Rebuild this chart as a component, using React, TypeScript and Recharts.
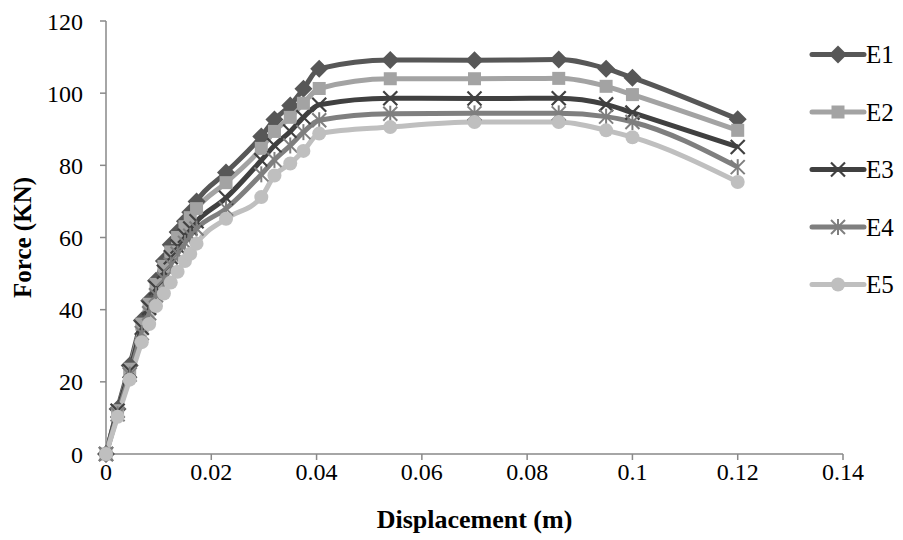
import React from "react"
import { LineChart, Line, XAxis, YAxis, Label } from "recharts"

// displacement (m), shared by all specimens
const displacement = [
  0, 0.0022, 0.0045, 0.0068, 0.0082, 0.0095, 0.011, 0.0123, 0.0136, 0.015, 0.016, 0.0172,
  0.0228, 0.0295, 0.032, 0.035, 0.0375, 0.0405, 0.054, 0.07, 0.086, 0.095, 0.1, 0.12
]

// force (KN)
const e1 = [0, 12.5, 24.5, 37, 42.5, 48, 53.5, 58, 61.5, 64.5, 67, 70, 78, 88, 92.7, 96.6, 101.2, 106.8, 109.2, 109.1, 109.3, 106.8, 104.3, 92.8]
const e2 = [0, 12, 23.5, 36, 41.5, 47, 52, 56, 60, 63, 65.5, 68, 75.2, 84.7, 89.4, 93.3, 97.2, 101.3, 104, 104, 104.1, 101.9, 99.6, 89.7]
const e3 = [0, 12, 23, 35, 40.5, 46, 50.5, 54.5, 57.5, 60.5, 62.5, 64.5, 71, 81.4, 85.5, 89.4, 93.3, 96.8, 98.6, 98.5, 98.6, 96.9, 94.6, 85.1]
const e4 = [0, 11, 22, 33.5, 39, 44, 48.5, 52.5, 55.5, 58.5, 60.5, 62.5, 68, 77.5, 81.5, 85.5, 89.2, 92.5, 94.3, 94.4, 94.4, 93.5, 92, 79.5]
const e5 = [0, 10.3, 20.6, 31, 36, 41, 44.5, 47.5, 50.5, 53.5, 55.5, 58.3, 65.2, 71.2, 77.2, 80.5, 84, 88.8, 90.6, 92, 92, 89.7, 87.8, 75.4]

const xTicks = [0, 0.02, 0.04, 0.06, 0.08, 0.1, 0.12, 0.14]
const yTicks = [0, 20, 40, 60, 80, 100, 120]

const seriesNames = ["E1", "E2", "E3", "E4", "E5"]

const data = displacement.map((x, i) => ({
  x,
  E1: e1[i],
  E2: e2[i],
  E3: e3[i],
  E4: e4[i],
  E5: e5[i]
}))

const FONT = "'Liberation Serif', 'Times New Roman', serif"
const AXIS = "#898989"

const styles: Record<string, { color: string; shape: string }> = {
  E1: { color: "#575757", shape: "diamond" },
  E2: { color: "#a3a3a3", shape: "square" },
  E3: { color: "#404040", shape: "cross" },
  E4: { color: "#7f7f7f", shape: "star" },
  E5: { color: "#bfbfbf", shape: "circle" }
}

function Marker({ shape, color, cx, cy }: { shape: string; color: string; cx: number; cy: number }) {
  if (cx == null || cy == null) return null
  if (shape === "diamond") {
    const s = 9
    return <polygon points={`${cx},${cy - s} ${cx + s},${cy} ${cx},${cy + s} ${cx - s},${cy}`} fill={color} />
  }
  if (shape === "square") {
    const s = 6.5
    return <rect x={cx - s} y={cy - s} width={s * 2} height={s * 2} fill={color} />
  }
  if (shape === "cross") {
    const s = 7
    return (
      <g stroke={color} strokeWidth={2.2}>
        <line x1={cx - s} y1={cy - s} x2={cx + s} y2={cy + s} />
        <line x1={cx - s} y1={cy + s} x2={cx + s} y2={cy - s} />
      </g>
    )
  }
  if (shape === "star") {
    const s = 7
    return (
      <g stroke={color} strokeWidth={2}>
        <line x1={cx - s} y1={cy - s} x2={cx + s} y2={cy + s} />
        <line x1={cx - s} y1={cy + s} x2={cx + s} y2={cy - s} />
        <line x1={cx} y1={cy - s - 1} x2={cx} y2={cy + s + 1} />
      </g>
    )
  }
  return <circle cx={cx} cy={cy} r={7} fill={color} />
}

const dotFor = (name: string) => (p: any) => (
  <Marker key={`${name}-${p.index}`} shape={styles[name].shape} color={styles[name].color} cx={p.cx} cy={p.cy} />
)

const legendTop = 54.5
const legendStep = 57.5

export default function App() {
  return (
    <div style={{ position: "absolute", left: 0, top: 0, width: 903, height: 540, background: "#fff" }}>
      <LineChart width={903} height={540} data={data} margin={{ top: 21, right: 60, left: 0, bottom: 0 }}>
        <XAxis
          dataKey="x"
          type="number"
          domain={[0, 0.14]}
          ticks={xTicks}
          interval={0}
          tickFormatter={(v) => String(v)}
          height={86}
          stroke={AXIS}
          strokeWidth={1.5}
          tickSize={6}
          tickMargin={3}
          tick={{ fill: "#000", fontSize: 24, fontFamily: FONT }}
        >
          <Label
            content={({ viewBox }: any) => (
              <text
                x={viewBox.x + viewBox.width / 2}
                y={viewBox.y + 74}
                textAnchor="middle"
                fontFamily={FONT}
                fontSize={26}
                fontWeight="bold"
                fill="#000"
              >
                Displacement (m)
              </text>
            )}
          />
        </XAxis>
        <YAxis
          type="number"
          domain={[0, 120]}
          ticks={yTicks}
          interval={0}
          width={106}
          stroke={AXIS}
          strokeWidth={1.5}
          tickSize={6}
          tickMargin={17}
          tick={{ fill: "#000", fontSize: 24, fontFamily: FONT }}
        >
          <Label
            content={({ viewBox }: any) => {
              const x = 31
              const y = viewBox.y + viewBox.height / 2
              return (
                <text
                  x={x}
                  y={y}
                  transform={`rotate(-90, ${x}, ${y})`}
                  textAnchor="middle"
                  fontFamily={FONT}
                  fontSize={25}
                  fontWeight="bold"
                  fill="#000"
                >
                  Force (KN)
                </text>
              )
            }}
          />
        </YAxis>
        {seriesNames.map((name) => (
          <Line
            key={name}
            type="monotone"
            dataKey={name}
            stroke={styles[name].color}
            strokeWidth={5}
            dot={dotFor(name)}
            activeDot={false}
            isAnimationActive={false}
          />
        ))}
      </LineChart>
      <svg width={903} height={540} style={{ position: "absolute", left: 0, top: 0, pointerEvents: "none" }}>
        {seriesNames.map((name, i) => {
          const y = legendTop + i * legendStep
          return (
            <g key={name}>
              <line x1={812} y1={y} x2={864} y2={y} stroke={styles[name].color} strokeWidth={5} strokeLinecap="round" />
              <Marker shape={styles[name].shape} color={styles[name].color} cx={838} cy={y} />
              <text x={866} y={y + 8.5} fontFamily={FONT} fontSize={25} fill="#000">
                {name}
              </text>
            </g>
          )
        })}
      </svg>
    </div>
  )
}
